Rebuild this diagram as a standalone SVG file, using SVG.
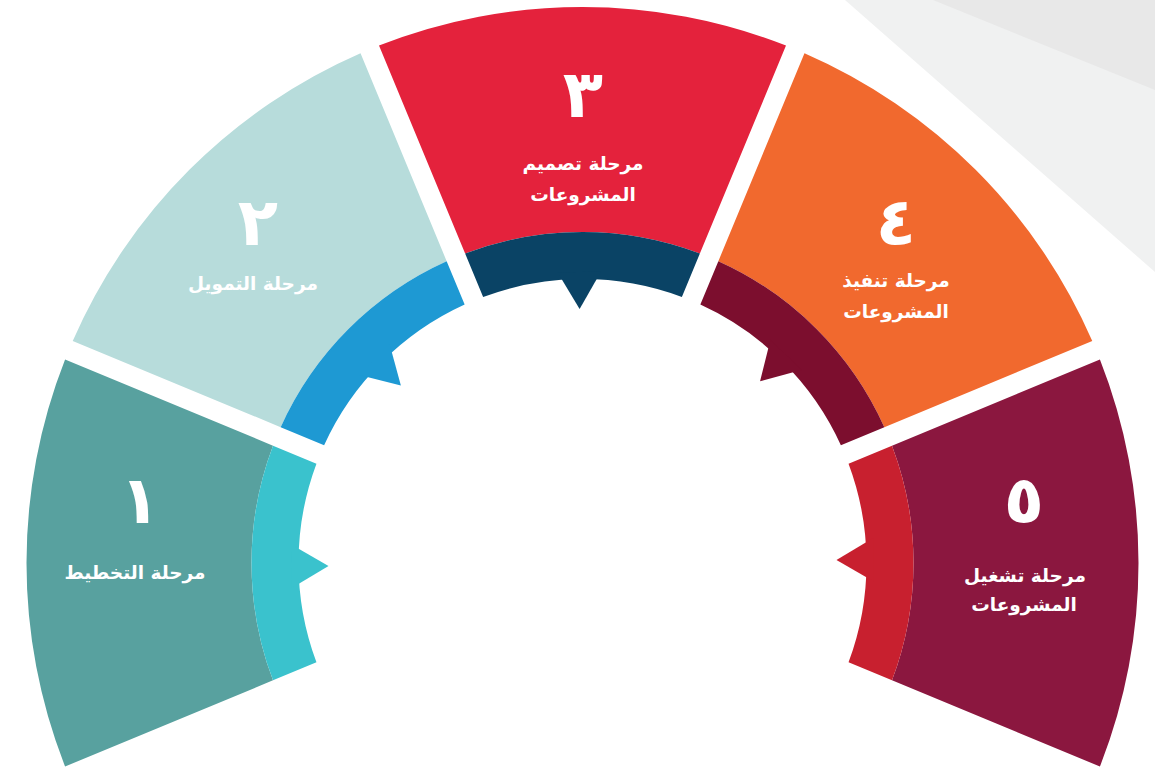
<svg xmlns="http://www.w3.org/2000/svg" xmlns:xlink="http://www.w3.org/1999/xlink" width="1155" height="776" viewBox="0 0 1155 776">
  <style>
    .num { font-family: "DejaVu Sans", sans-serif; font-weight: bold; font-size: 66px; fill: #ffffff; text-anchor: middle; }
    .lbl { font-family: "DejaVu Sans", sans-serif; font-weight: bold; font-size: 18.5px; fill: #ffffff; text-anchor: middle; }
  </style>
  <defs>
    <path id="sector" d="M 379.00,45.58 A 556 556 0 0 1 786.00,45.58 L 699.87,253.51 A 331 331 0 0 0 465.13,253.51 Z"/>
    <path id="band" d="M 465.13,253.51 A 331 331 0 0 1 699.87,253.51 L 681.87,296.95 A 284 284 0 0 0 483.13,296.95 Z"/>
    <polygon id="notch" points="560.8,272 604.2,272 582.5,309"/>
  </defs>

  <rect width="1155" height="776" fill="#ffffff"/>
  <g id="background">
    <polygon points="845,0 1155,0 1155,272" fill="#F0F1F1"/>
    <polygon points="933,0 1155,0 1155,90" fill="#E8E8E8"/>
  </g>

  <g id="stage1">
    <g transform="rotate(-90 582.5 563)">
      <use xlink:href="#sector" fill="#58A19F"/>
      <use xlink:href="#band" fill="#3AC2CD"/>
      <use xlink:href="#notch" fill="#3AC2CD" transform="rotate(-0.65 582.5 563)"/>
    </g>
    <text class="num" x="140" y="523">١</text>
    <text class="lbl" x="135" y="579">مرحلة التخطيط</text>
  </g>

  <g id="stage2">
    <g transform="rotate(-45 582.5 563)">
      <use xlink:href="#sector" fill="#B7DCDB"/>
      <use xlink:href="#band" fill="#1E99D3"/>
      <use xlink:href="#notch" fill="#1E99D3" transform="rotate(-0.65 582.5 563)"/>
    </g>
    <text class="num" x="258" y="245">٢</text>
    <text class="lbl" x="253" y="290">مرحلة التمويل</text>
  </g>

  <g id="stage3">
    <g>
      <use xlink:href="#sector" fill="#E4223C"/>
      <use xlink:href="#band" fill="#0A4365"/>
      <use xlink:href="#notch" fill="#0A4365" transform="rotate(-0.65 582.5 563)"/>
    </g>
    <text class="num" x="583" y="117">٣</text>
    <text class="lbl" x="583" y="170">مرحلة تصميم</text>
    <text class="lbl" x="583" y="201">المشروعات</text>
  </g>

  <g id="stage4">
    <g transform="rotate(45 582.5 563)">
      <use xlink:href="#sector" fill="#F1692E"/>
      <use xlink:href="#band" fill="#7C0E2E"/>
      <use xlink:href="#notch" fill="#7C0E2E" transform="rotate(-0.65 582.5 563)"/>
    </g>
    <text class="num" x="896" y="245">٤</text>
    <text class="lbl" x="896" y="287">مرحلة تنفيذ</text>
    <text class="lbl" x="896" y="318">المشروعات</text>
  </g>

  <g id="stage5">
    <g transform="rotate(90 582.5 563)">
      <use xlink:href="#sector" fill="#8B173F"/>
      <use xlink:href="#band" fill="#C8202F"/>
      <use xlink:href="#notch" fill="#C8202F" transform="rotate(-0.65 582.5 563)"/>
    </g>
    <text class="num" x="1024" y="523">٥</text>
    <text class="lbl" x="1025" y="582">مرحلة تشغيل</text>
    <text class="lbl" x="1024" y="611">المشروعات</text>
  </g>

  <g id="connectors"/>
</svg>
